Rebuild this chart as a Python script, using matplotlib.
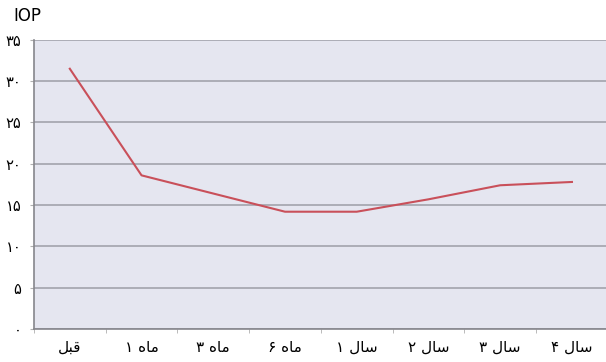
import matplotlib
matplotlib.use('Agg')
import matplotlib.pyplot as plt

plt.rcParams['font.family'] = ['DejaVu Sans']

# x labels in visual (left-to-right) order with shaped Arabic presentation forms
labels = ['\ufede\ufe92\ufed7',            # qabl
          '\u06f1 \ufee9\ufe8e\ufee3',     # 1 mah
          '\u06f3 \ufee9\ufe8e\ufee3',     # 3 mah
          '\u06f6 \ufee9\ufe8e\ufee3',     # 6 mah
          '\u06f1 \ufedd\ufe8e\ufeb3',     # 1 sal
          '\u06f2 \ufedd\ufe8e\ufeb3',     # 2 sal
          '\u06f3 \ufedd\ufe8e\ufeb3',     # 3 sal
          '\u06f4 \ufedd\ufe8e\ufeb3']     # 4 sal
iop = [31.5, 18.6, 16.4, 14.2, 14.2, 15.7, 17.4, 17.8]
yticks = [0, 5, 10, 15, 20, 25, 30, 35]
ytick_labels = ['\u06f0', '\u06f5', '\u06f1\u06f0', '\u06f1\u06f5',
                '\u06f2\u06f0', '\u06f2\u06f5', '\u06f3\u06f0', '\u06f3\u06f5']

fig = plt.figure(figsize=(6.06, 3.62), dpi=100)
ax = fig.add_axes([0.056, 0.091, 0.947, 0.799])
ax.set_facecolor('#e5e6f0')

x = list(range(len(iop)))
ax.plot(x, iop, color='#c9505a', lw=1.5)

ax.set_xlim(-0.5, len(iop) - 0.5)
ax.set_ylim(0, 35)
ax.set_yticks(yticks)
ax.set_yticklabels(ytick_labels, fontsize=10.5)
ax.set_xticks(x)
ax.set_xticklabels(labels, fontsize=11)
ax.set_xticks([i + 0.5 for i in range(-1, len(iop))], minor=True)
ax.tick_params(axis='x', which='major', length=0, pad=8)
ax.tick_params(axis='x', which='minor', length=3, color='#b0b0b0')
ax.tick_params(axis='y', length=3, color='#b0b0b0', pad=6)
ax.grid(True, axis='y', color='#9c9ea6', lw=1.1)
ax.set_axisbelow(True)

for s in ['top', 'right']:
    ax.spines[s].set_visible(False)
ax.spines['left'].set_color('#86868c')
ax.spines['bottom'].set_color('#86868c')
ax.spines['left'].set_linewidth(1.2)
ax.spines['bottom'].set_linewidth(1.2)

fig.text(0.022, 0.955, 'IOP', fontsize=12, va='center', ha='left')

fig.savefig('out.png', dpi=100)
